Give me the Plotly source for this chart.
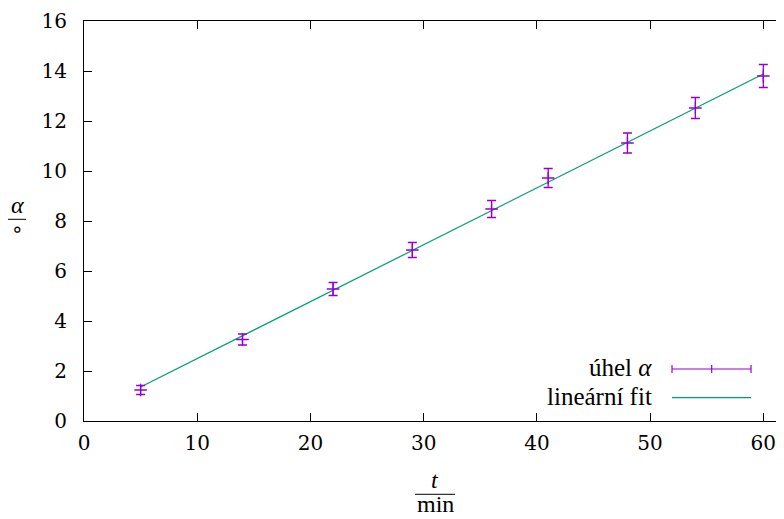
import plotly.graph_objects as go

# data
t_min = [5, 14, 22, 29, 36, 41, 48, 54, 60]
alpha_deg = [1.24, 3.26, 5.28, 6.84, 8.48, 9.72, 11.12, 12.52, 13.80]
alpha_err = [0.18, 0.22, 0.26, 0.30, 0.34, 0.38, 0.40, 0.42, 0.46]

fit_t = [5, 60]
fit_alpha = [1.36, 13.88]

x_ticks = [0, 10, 20, 30, 40, 50, 60]
y_ticks = [0, 2, 4, 6, 8, 10, 12, 14, 16]

PURPLE = "#9400d3"
GREEN = "#009e73"
FONT = "DejaVu Serif"
FONT2 = "Liberation Serif"

# page body has an 8px margin; the figure sits at (8, 8) in the window
OFF = 8
W, H = 784 - OFF, 519 - OFF
PL_REF, PB_REF, PT_REF = 84, 421, 21          # plot edges in window pixels
ML, MR, MT = PL_REF - OFF, 0, PT_REF - OFF
MB = H - (PB_REF - OFF)
PW, PH = W - ML - MR, H - MT - MB


def X(px):
    return (px - PL_REF) / PW


def Y(py):
    return (PB_REF - py) / PH


fig = go.Figure()
fig.add_trace(go.Scatter(
    x=fit_t, y=fit_alpha, mode="lines",
    line=dict(color=GREEN, width=1.2), showlegend=False, hoverinfo="skip"))
fig.add_trace(go.Scatter(
    x=t_min, y=alpha_deg, mode="markers",
    marker=dict(symbol="cross-thin", size=9, line=dict(color=PURPLE, width=1.3), color=PURPLE),
    error_y=dict(type="data", array=alpha_err, color=PURPLE, thickness=1.3, width=4.5),
    showlegend=False))

axis_common = dict(
    showline=True, linecolor="black", linewidth=1, mirror="ticks",
    ticks="inside", ticklen=8, tickwidth=1, tickcolor="black",
    showgrid=False, zeroline=False,
    tickfont=dict(family=FONT, size=20, color="black"),
)

x_max = 60 * PW / (763.3 - PL_REF)

fig.update_layout(
    width=W, height=H,
    margin=dict(l=ML, r=MR, t=MT, b=MB),
    plot_bgcolor="white", paper_bgcolor="white",
    xaxis=dict(range=[0, x_max], tickvals=x_ticks, ticktext=[str(v) for v in x_ticks],
               ticklabelstandoff=4, **axis_common),
    yaxis=dict(range=[0, 16], tickvals=y_ticks, ticktext=[str(v) for v in y_ticks],
               ticklabelstandoff=12, **axis_common),
    font=dict(family=FONT2, color="black"),
)

annots = [
    # x-axis label: t / min
    dict(x=X(435), y=Y(480), text="<i>t</i>", font=dict(size=24)),
    dict(x=X(435), y=Y(519), text="min", yanchor="bottom", font=dict(size=24)),
    # y-axis label: alpha / degree
    dict(x=X(17.5), y=Y(205), text="<i>α</i>", font=dict(size=24)),
    dict(x=X(17), y=Y(229), text="∘", font=dict(size=20, family="DejaVu Sans")),
    # legend text
    dict(x=X(654), y=Y(367), text="úhel <i>α</i>", xanchor="right", font=dict(size=25)),
    dict(x=X(654), y=Y(396), text="lineární fit", xanchor="right", font=dict(size=25)),
]
for a in annots:
    a.setdefault("xanchor", "center")
    a.setdefault("yanchor", "middle")
    a.update(xref="paper", yref="paper", showarrow=False)
    a["font"].setdefault("family", FONT2)
    a["font"]["color"] = "black"
fig.update_layout(annotations=annots)

shapes = [
    dict(type="line", x0=X(415), x1=X(455), y0=Y(494.3), y1=Y(494.3), line=dict(color="black", width=1)),
    dict(type="line", x0=X(8), x1=X(26), y0=Y(219.3), y1=Y(219.3), line=dict(color="black", width=1)),
    # legend samples
    dict(type="line", x0=X(672), x1=X(751), y0=Y(369), y1=Y(369), line=dict(color=PURPLE, width=1.2)),
    dict(type="line", x0=X(672), x1=X(751), y0=Y(397.7), y1=Y(397.7), line=dict(color=GREEN, width=1.2)),
]
for px in (672, 711.7, 751):
    shapes.append(dict(type="line", x0=X(px), x1=X(px), y0=Y(365), y1=Y(373),
                       line=dict(color=PURPLE, width=1.2)))
for s in shapes:
    s.update(xref="paper", yref="paper")
fig.update_layout(shapes=shapes)

fig.write_html("out.html")
